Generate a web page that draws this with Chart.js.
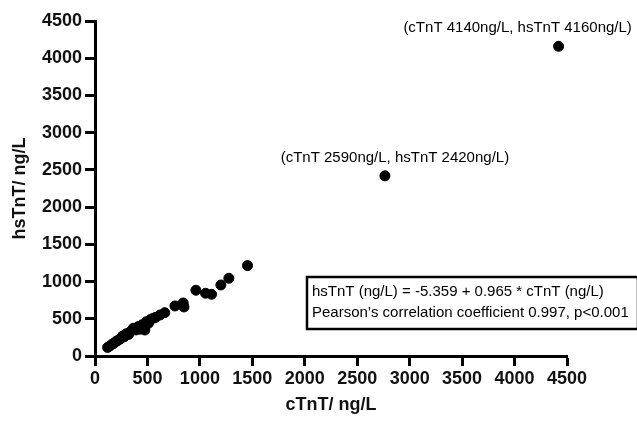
<!DOCTYPE html>
<html>
<head>
<meta charset="utf-8">
<script src="https://cdn.jsdelivr.net/npm/chart.js@4.4.0/dist/chart.umd.min.js"></script>
<style>
  html, body { margin: 0; padding: 0; background: #fff; }
  #wrap { width: 637px; height: 422px; }
</style>
</head>
<body>
<div id="wrap"><canvas id="chart" width="637" height="422"></canvas></div>
<script>
// cTnT (x) and hsTnT (y) values
var cTnT = [120, 140, 165, 180, 200, 215, 235, 250, 265, 280, 300, 320, 340, 365, 390, 410,
            430, 450, 475, 490, 510, 530, 555, 580, 620, 665, 762, 841, 848, 962, 1054, 1111,
            1200, 1276, 1454, 2764, 4420];
var hsTnT = [115, 134, 160, 170, 195, 205, 225, 240, 270, 260, 300, 290, 330, 372, 350, 394,
             360, 420, 349, 461, 440, 490, 507, 520, 551, 582, 672, 712, 659, 883, 843, 829,
             954, 1044, 1214, 2420, 4160];
var axisTicks = [0, 500, 1000, 1500, 2000, 2500, 3000, 3500, 4000, 4500];

// labelled outliers: index into the arrays above + text
var callouts = [
    { idx: 35, text: '(cTnT 2590ng/L, hsTnT 2420ng/L)' },
    { idx: 36, text: '(cTnT 4140ng/L, hsTnT 4160ng/L)' }
];
var fitLines = [
    'hsTnT (ng/L) = -5.359 + 0.965 * cTnT (ng/L)',
    'Pearson\u2019s correlation coefficient 0.997, p<0.001'
];

var points = cTnT.map(function (c, i) { return { x: c, y: hsTnT[i] }; });

var annotate = {
    id: 'annotate',
    afterDatasetsDraw: function (chart) {
        var ctx = chart.ctx;
        var xs = chart.scales.x, ys = chart.scales.y;
        ctx.save();
        ctx.fillStyle = '#000';
        ctx.font = '15px "Liberation Sans", Arial, sans-serif';
        ctx.textAlign = 'center';
        ctx.textBaseline = 'middle';
        callouts.forEach(function (c, k) {
            var px = xs.getPixelForValue(cTnT[c.idx]);
            var py = ys.getPixelForValue(hsTnT[c.idx]);
            var dx = k === 0 ? 10 : -41;
            ctx.fillText(c.text, px + dx, py - 18);
        });
        // regression box
        ctx.lineWidth = 2.5;
        ctx.strokeStyle = '#000';
        ctx.strokeRect(307, 277, 331, 52);
        ctx.textAlign = 'left';
        ctx.fillText(fitLines[0], 312, 292);
        ctx.fillText(fitLines[1], 312, 313);
        ctx.restore();
    }
};

var tickFont = { family: '"Liberation Sans", Arial, sans-serif', size: 18, weight: 'bold' };
var titleFont = { family: '"Liberation Sans", Arial, sans-serif', size: 18, weight: 'bold' };
var plainTick = function (v) { return String(v); };

new Chart(document.getElementById('chart').getContext('2d'), {
    type: 'scatter',
    data: {
        datasets: [{
            data: points,
            backgroundColor: '#000',
            borderColor: '#000',
            pointRadius: 5,
            pointHoverRadius: 5
        }]
    },
    options: {
        responsive: false,
        animation: false,
        events: [],
        layout: { padding: { top: 21, right: 70, left: 0, bottom: 0 } },
        plugins: { legend: { display: false }, tooltip: { enabled: false } },
        scales: {
            x: {
                type: 'linear', min: 0, max: 4500,
                afterBuildTicks: function (s) { s.ticks = axisTicks.map(function (v) { return { value: v }; }); },
                afterFit: function (s) { s.height = 66; },
                grid: { drawOnChartArea: false, tickLength: 10, tickWidth: 3, color: '#000' },
                border: { display: true, width: 3, color: '#000' },
                ticks: { color: '#111', font: tickFont, padding: 2, maxRotation: 0, autoSkip: false, callback: plainTick },
                title: { display: true, text: 'cTnT/ ng/L', color: '#111', font: titleFont, padding: { top: 4, bottom: 6 } }
            },
            y: {
                type: 'linear', min: 0, max: 4500,
                afterBuildTicks: function (s) { s.ticks = axisTicks.map(function (v) { return { value: v }; }); },
                afterFit: function (s) { s.width = 95; },
                grid: { drawOnChartArea: false, tickLength: 10, tickWidth: 3, color: '#000' },
                border: { display: true, width: 3, color: '#000' },
                ticks: { color: '#111', font: tickFont, padding: 3, autoSkip: false, callback: plainTick },
                title: { display: true, text: 'hsTnT/ ng/L', color: '#111', font: titleFont, padding: { top: 9, bottom: 4 } }
            }
        }
    },
    plugins: [annotate]
});
</script>
</body>
</html>
